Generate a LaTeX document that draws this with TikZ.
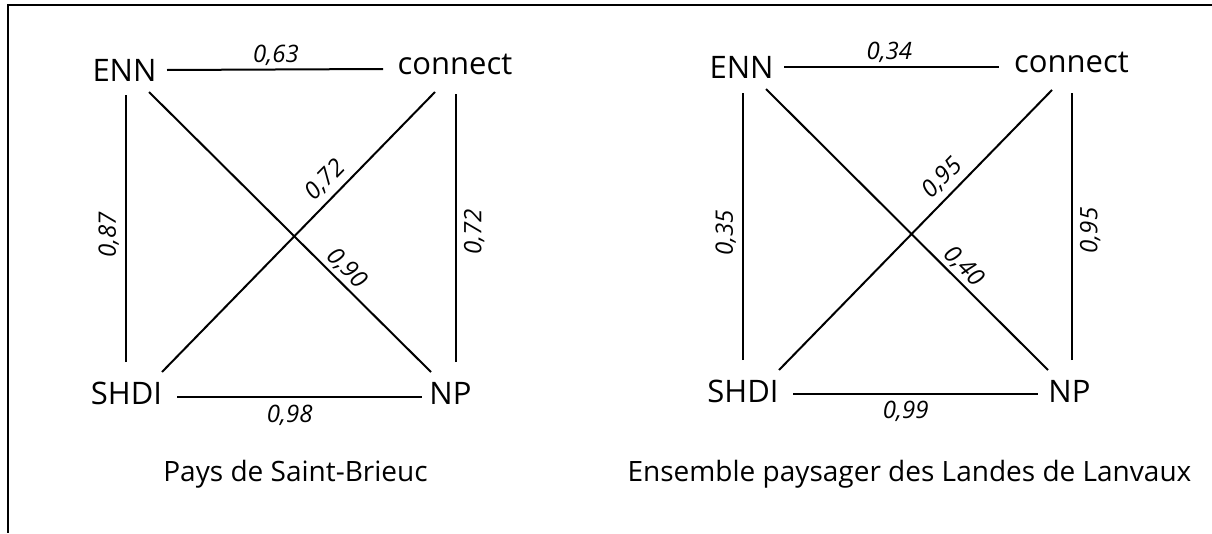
\documentclass[tikz,border=0pt]{standalone}
\usepackage{fontspec}
\setmainfont{Open Sans}
\usetikzlibrary{calc}
\begin{document}
\begin{tikzpicture}[x=1pt,y=-1pt,
  var/.style={inner sep=0pt, anchor=base, font=\fontsize{31}{36}\selectfont},
  coef/.style={inner sep=0pt, sloped, allow upside down, font=\fontsize{24}{28}\selectfont\itshape},
  ttl/.style={inner sep=0pt, anchor=base, font=\fontsize{28}{33}\selectfont},
  edgeline/.style={line width=2pt},
  framebox/.style={line width=2pt}]
\useasboundingbox (0,0) rectangle (1212,533);
% frame
\draw[framebox] (1212,5) -- (7.5,5) -- (7.5,533);

% ---------- left panel ----------
\node[var] (ENNa) at (124.5,81) {ENN};
\node[var] (CONa) at (455,74) {connect};
\node[var] (SHDIa) at (126.5,404) {SHDI};
\node[var] (NPa) at (450.5,404) {NP};

\draw[edgeline] ($(ENNa.base)+(42.5,-11)$) -- node[coef, pos=0.505, above=3pt] {0,63} ($(CONa.base)+(-72,-5)$);
\draw[edgeline] ($(SHDIa.base)+(-0.5,-42)$) -- node[coef, pos=0.476, above=6pt] {0,87} ($(ENNa.base)+(1.5,14)$);
\draw[edgeline] ($(NPa.base)+(5.5,-42)$) -- node[coef, pos=0.485, below=7pt] {0,72} ($(CONa.base)+(1,20)$);
\draw[edgeline] ($(ENNa.base)+(24.5,11)$) -- node[coef, pos=0.666, above=3pt] {0,90} ($(NPa.base)+(-19.5,-32)$);
\draw[edgeline] ($(SHDIa.base)+(35.5,-32)$) -- node[coef, pos=0.643, above=6pt] {0,72} ($(CONa.base)+(-20,18)$);
\draw[edgeline] ($(SHDIa.base)+(50.5,-7)$) -- node[coef, pos=0.46, below=7pt] {0,98} ($(NPa.base)+(-28.5,-7)$);

\node[ttl] (TTLa) at (295.5,481) {Pays de Saint-Brieuc};

% ---------- right panel ----------
\node[var] (ENNb) at (741.5,78) {ENN};
\node[var] (CONb) at (1071.5,72) {connect};
\node[var] (SHDIb) at (743,402) {SHDI};
\node[var] (NPb) at (1069.5,402) {NP};

\draw[edgeline] ($(ENNb.base)+(42.5,-11)$) -- node[coef, pos=0.49, above=3pt] {0,34} ($(CONb.base)+(-72.5,-5)$);
\draw[edgeline] ($(SHDIb.base)+(0,-42)$) -- node[coef, pos=0.476, above=6pt] {0,35} ($(ENNb.base)+(1.5,15)$);
\draw[edgeline] ($(NPb.base)+(2.5,-42)$) -- node[coef, pos=0.485, below=7pt] {0,95} ($(CONb.base)+(0.5,21)$);
\draw[edgeline] ($(ENNb.base)+(24.5,11)$) -- node[coef, pos=0.667, above=3pt] {0,40} ($(NPb.base)+(-21.5,-32)$);
\draw[edgeline] ($(SHDIb.base)+(36,-32)$) -- node[coef, pos=0.643, above=6pt] {0,95} ($(CONb.base)+(-19.5,18)$);
\draw[edgeline] ($(SHDIb.base)+(50,-8)$) -- node[coef, pos=0.46, below=6pt] {0,99} ($(NPb.base)+(-31.5,-8)$);

\node[ttl] (TTLb) at (909.5,481) {Ensemble paysager des Landes de Lanvaux};
\end{tikzpicture}
\end{document}
